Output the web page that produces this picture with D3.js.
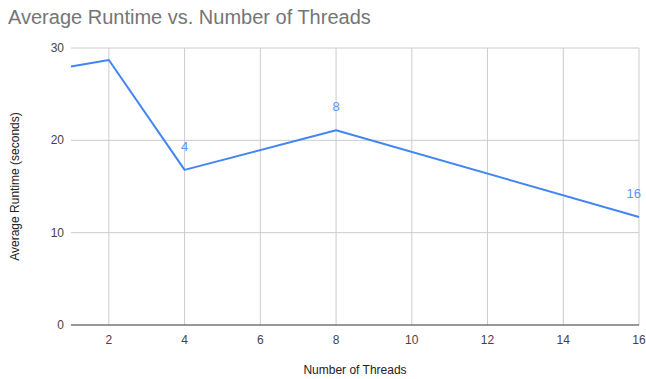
<!DOCTYPE html>
<html>
<head>
<meta charset="utf-8">
<script src="https://cdn.jsdelivr.net/npm/d3@7"></script>
<style>
  body { margin: 0; background: #fff; }
  svg { font-family: Arial, "Liberation Sans", sans-serif; }
</style>
</head>
<body>
<svg id="chart" width="646" height="379"></svg>
<script>
// data
var threads = [1, 2, 4, 8, 16];
var runtimes = [28.0, 28.7, 16.8, 21.1, 11.7];
var pointLabels = ["", "", "4", "8", "16"];
var xTicks = [2, 4, 6, 8, 10, 12, 14, 16];
var yTicks = [0, 10, 20, 30];

var width = 646, height = 379;
var margin = {left: 71, right: 7, top: 48, bottom: 54};

var svg = d3.select("#chart");

var x = d3.scaleLinear().domain([1, 16]).range([margin.left, width - margin.right]);
var y = d3.scaleLinear().domain([0, 30]).range([height - margin.bottom, margin.top]);

// title
svg.append("text")
    .attr("x", 8)
    .attr("y", 24)
    .attr("fill", "#757575")
    .attr("font-size", 20)
    .text("Average Runtime vs. Number of Threads");

// vertical grid
svg.append("g").selectAll("line").data(xTicks).enter().append("line")
    .attr("x1", function(d) { return x(d); })
    .attr("x2", function(d) { return x(d); })
    .attr("y1", y(30))
    .attr("y2", y(0))
    .attr("stroke", "#cccccc")
    .attr("stroke-width", 1);

// horizontal grid
svg.append("g").selectAll("line").data(yTicks.slice(1)).enter().append("line")
    .attr("x1", x(1))
    .attr("x2", x(16))
    .attr("y1", function(d) { return y(d); })
    .attr("y2", function(d) { return y(d); })
    .attr("stroke", "#cccccc")
    .attr("stroke-width", 1);

// baseline
svg.append("line")
    .attr("x1", x(1)).attr("x2", x(16))
    .attr("y1", y(0)).attr("y2", y(0))
    .attr("stroke", "#333333")
    .attr("stroke-width", 1);

// y tick labels
svg.append("g").selectAll("text").data(yTicks).enter().append("text")
    .attr("x", 64)
    .attr("y", function(d) { return y(d) + 4; })
    .attr("text-anchor", "end")
    .attr("font-size", 12)
    .attr("fill", "#444444")
    .text(function(d) { return d; });

// x tick labels
svg.append("g").selectAll("text").data(xTicks).enter().append("text")
    .attr("x", function(d) { return x(d); })
    .attr("y", y(0) + 19)
    .attr("text-anchor", "middle")
    .attr("font-size", 12)
    .attr("fill", "#444444")
    .text(function(d) { return d; });

// axis titles
svg.append("text")
    .attr("x", (x(1) + x(16)) / 2)
    .attr("y", 374)
    .attr("text-anchor", "middle")
    .attr("font-size", 12)
    .attr("fill", "#222222")
    .text("Number of Threads");

svg.append("text")
    .attr("transform", "translate(19," + ((y(0) + y(30)) / 2) + ") rotate(-90)")
    .attr("text-anchor", "middle")
    .attr("font-size", 12)
    .attr("fill", "#222222")
    .text("Average Runtime (seconds)");

// line
var data = threads.map(function(t, i) { return {x: t, y: runtimes[i], label: pointLabels[i]}; });

var line = d3.line()
    .x(function(d) { return x(d.x); })
    .y(function(d) { return y(d.y); });

svg.append("path")
    .datum(data)
    .attr("d", line)
    .attr("fill", "none")
    .attr("stroke", "#4285f4")
    .attr("stroke-width", 2)
    .attr("stroke-linejoin", "round");

// point labels
svg.append("g").selectAll("text").data(data.filter(function(d) { return d.label; })).enter().append("text")
    .attr("x", function(d) { return d.x === 16 ? x(d.x) + 2 : x(d.x); })
    .attr("y", function(d) { return y(d.y) - 19; })
    .attr("text-anchor", function(d) { return d.x === 16 ? "end" : "middle"; })
    .attr("font-size", 13)
    .attr("fill", "#5b95f5")
    .text(function(d) { return d.label; });
</script>
</body>
</html>
